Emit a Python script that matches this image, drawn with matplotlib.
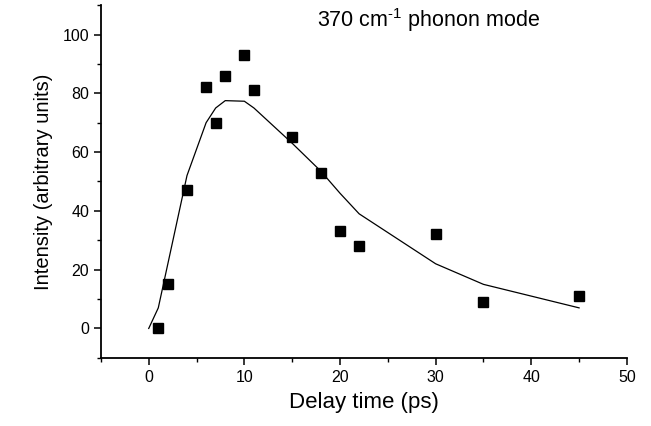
import matplotlib
matplotlib.use("Agg")
import matplotlib.pyplot as plt
from matplotlib.ticker import MultipleLocator

plt.rcParams['font.family'] = ['Liberation Sans', 'DejaVu Sans']

# measured points (squares)
delay = [1, 2, 4, 6, 7, 8, 10, 11, 15, 18, 20, 22, 30, 35, 45]
intensity = [0, 15, 47, 82, 70, 86, 93, 81, 65, 53, 33, 28, 32, 9, 11]

# fit curve
fit_t = [0, 1, 2, 3, 4, 6, 7, 8, 10, 11, 15, 18, 20, 22, 30, 35, 45]
fit_i = [0, 7, 22, 37, 52, 70, 75, 77.5, 77.3, 75, 63, 53.5, 46, 39, 22, 15, 7]

fig = plt.figure(figsize=(6.51, 4.26), dpi=100)
ax = fig.add_axes([0.155, 0.160, 0.808, 0.828])

ax.plot(fit_t, fit_i, color='black', linewidth=0.9)
ax.plot(delay, intensity, linestyle='none', marker='s', markersize=6.5, color='black')

ax.set_xlim(-5, 50)
ax.set_ylim(-10, 110)
ax.xaxis.set_major_locator(MultipleLocator(10))
ax.xaxis.set_minor_locator(MultipleLocator(5))
ax.yaxis.set_minor_locator(MultipleLocator(10))
ax.set_yticks([0, 20, 40, 60, 80, 100])

ax.spines['top'].set_visible(False)
ax.spines['right'].set_visible(False)
ax.spines['left'].set_linewidth(1.3)
ax.spines['bottom'].set_linewidth(1.3)
ax.tick_params(which='major', direction='out', length=5, width=1.1, labelsize=11.5)
ax.tick_params(which='minor', direction='out', length=3, width=1.0)

ax.set_xlabel('Delay time (ps)', fontsize=16, labelpad=5)
ax.set_ylabel('Intensity (arbitrary units)', fontsize=14.5, labelpad=7)

# hyphen (U+2010) keeps the superscript short like the original
ax.text(29.3, 105, '370 cm$^{\\mathregular{\u20101}}$ phonon mode', fontsize=15.5,
        ha='center', va='center')

fig.savefig('out.png', dpi=100)
